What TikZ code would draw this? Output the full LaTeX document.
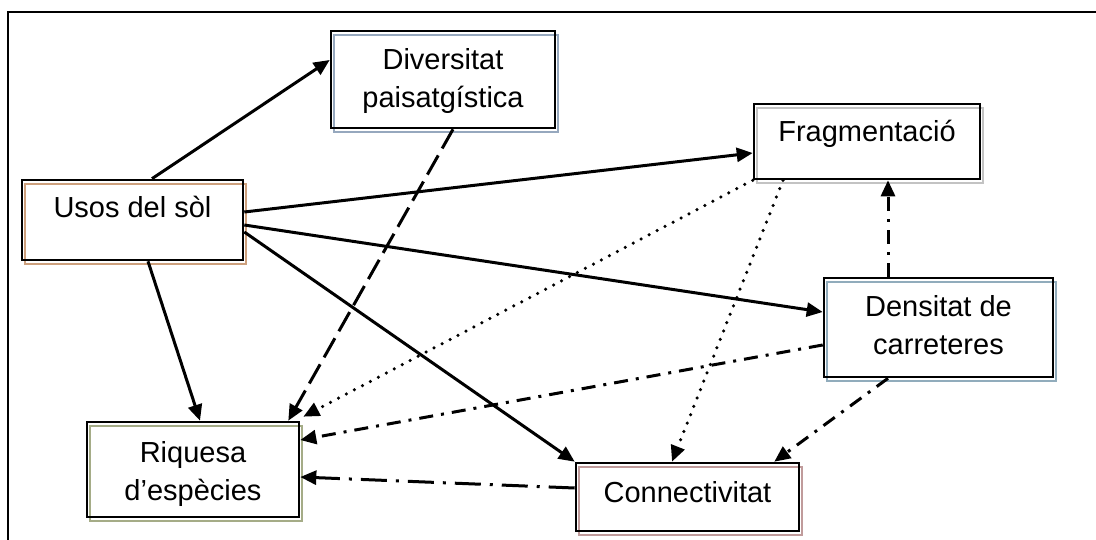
\documentclass[tikz,border=0pt]{standalone}
\usepackage{fontspec}
\setmainfont{Liberation Sans}
\usepackage{tikz}
\usetikzlibrary{arrows.meta, shadows}

\definecolor{shUsos}{RGB}{205,160,125}
\definecolor{shDiv}{RGB}{150,168,190}
\definecolor{shFrag}{RGB}{195,195,195}
\definecolor{shDens}{RGB}{145,172,188}
\definecolor{shRiq}{RGB}{165,172,135}
\definecolor{shConn}{RGB}{192,155,155}

\newcommand{\boxfont}{\fontsize{29}{38}\selectfont}

\tikzset{
  box/.style={rectangle, draw=black, line width=2.6pt, fill=none,
              inner sep=0pt, align=center, anchor=base, font=\boxfont,
              general shadow={shadow xshift=3pt, shadow yshift=-4pt,
                              draw=#1, fill=none, line width=2.2pt}},
  arrow/.style={-{Triangle[length=16pt,width=14pt]}, line width=3pt},
  dasharrow/.style={arrow, dash pattern=on 22pt off 8pt},
  dotarrow/.style={arrow, line width=3.5pt, line cap=round,
                   dash pattern=on 0pt off 9pt},
  dotdasharrow/.style={arrow, dash pattern=on 14pt off 8pt on 3pt off 8pt},
  longdotdasharrow/.style={arrow, dash pattern=on 26pt off 9pt on 3pt off 9pt},
}

\begin{document}
\begin{tikzpicture}[x=1pt, y=-1pt]
  \useasboundingbox (0,0) rectangle (1096,540);

  % Frame
  \draw[line width=1.8pt] (8,540) |- (1096,12);

  % Boxes (base anchor = last text line)
  \node[box=shUsos, minimum width=221pt, text height=38pt, text depth=42pt]
    (usos) at (132.5,218) {Usos del sòl};
  \node[box=shDiv, minimum width=224pt, text height=77pt, text depth=20pt]
    (div) at (443,108) {Diversitat\\paisatgística};
  \node[box=shFrag, minimum width=226pt, text height=38pt, text depth=37pt]
    (frag) at (867,142) {Fragmentació};
  \node[box=shDens, minimum width=229pt, text height=76pt, text depth=23pt]
    (dens) at (938.5,354) {Densitat de\\carreteres};
  \node[box=shRiq, minimum width=212pt, text height=78pt, text depth=17pt]
    (riq) at (193,500) {Riquesa\\d’espècies};
  \node[box=shConn, minimum width=223pt, text height=39pt, text depth=29pt]
    (conn) at (687.5,502) {Connectivitat};

  % Arrows from Usos del sol
  \draw[arrow] ([xshift=19.5pt]usos.north) -- ([yshift=19.5pt]div.west);
  \draw[arrow] ([yshift=8pt]usos.east) -- ([yshift=-11.5pt]frag.west);
  \draw[arrow] ([yshift=-5pt]usos.east) -- ([yshift=15.5pt]dens.west);
  \draw[arrow] ([yshift=-12pt]usos.east) -- (conn.north west);
  \draw[arrow] ([xshift=15.5pt]usos.south) -- ([xshift=7pt]riq.north);

  % Other links
  \draw[dasharrow] ([xshift=10pt]div.south) -- ([xshift=-12pt]riq.north east);
  \draw[dotarrow] (frag.south west) -- ([xshift=3pt,yshift=4pt]riq.north east);
  \draw[dotarrow] ([xshift=-84pt]frag.south) -- ([xshift=-15.5pt]conn.north);
  \draw[dotdasharrow] ([xshift=-50.5pt]dens.north) -- ([xshift=21pt]frag.south);
  \draw[dotdasharrow] ([yshift=-17.5pt]dens.west) -- ([yshift=29.5pt]riq.east);
  \draw[dotdasharrow] ([xshift=-50.5pt]dens.south) -- ([xshift=-26pt]conn.north east);
  \draw[longdotdasharrow] ([yshift=9pt]conn.west) -- ([yshift=-7.5pt]riq.east);
\end{tikzpicture}
\end{document}
